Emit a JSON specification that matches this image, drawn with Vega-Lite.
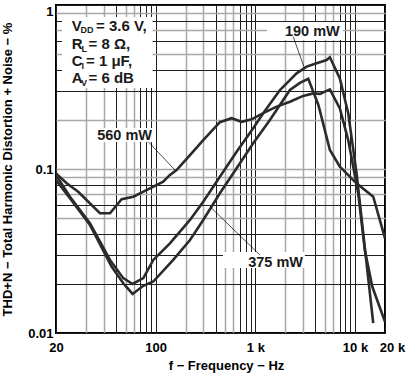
{
  "$schema": "https://vega.github.io/schema/vega-lite/v6.json",
  "autosize": {"type": "none"},
  "width": 329,
  "height": 328,
  "padding": {"left": 56, "top": 5, "right": 21, "bottom": 42},
  "background": "#ffffff",
  "config": {
    "font": "Liberation Sans",
    "view": {"stroke": "#000000", "strokeWidth": 2},
    "axis": {
      "domain": false,
      "ticks": false,
      "tickSize": 0,
      "labelFont": "Liberation Sans",
      "labelFontSize": 13,
      "labelFontWeight": "bold",
      "labelColor": "#000000",
      "titleFont": "Liberation Sans",
      "titleFontSize": 13,
      "titleFontWeight": "bold",
      "titleColor": "#000000",
      "labelOverlap": false,
      "gridOpacity": 1
    }
  },
  "datasets": {
    "curves": [
      {"series": "190 mW", "f": 10, "thd": 0.092},
      {"series": "190 mW", "f": 13.8, "thd": 0.0678},
      {"series": "190 mW", "f": 21.9, "thd": 0.0467},
      {"series": "190 mW", "f": 34.8, "thd": 0.0279},
      {"series": "190 mW", "f": 47.3, "thd": 0.0216},
      {"series": "190 mW", "f": 58.7, "thd": 0.0199},
      {"series": "190 mW", "f": 75.2, "thd": 0.0216},
      {"series": "190 mW", "f": 94.7, "thd": 0.0279},
      {"series": "190 mW", "f": 139, "thd": 0.0352},
      {"series": "190 mW", "f": 221, "thd": 0.0489},
      {"series": "190 mW", "f": 300, "thd": 0.0632},
      {"series": "190 mW", "f": 441, "thd": 0.0898},
      {"series": "190 mW", "f": 649, "thd": 0.1275},
      {"series": "190 mW", "f": 952, "thd": 0.177},
      {"series": "190 mW", "f": 1200, "thd": 0.219},
      {"series": "190 mW", "f": 1765, "thd": 0.303},
      {"series": "190 mW", "f": 2061, "thd": 0.333},
      {"series": "190 mW", "f": 2594, "thd": 0.383},
      {"series": "190 mW", "f": 3272, "thd": 0.421},
      {"series": "190 mW", "f": 4121, "thd": 0.441},
      {"series": "190 mW", "f": 5190, "thd": 0.462},
      {"series": "190 mW", "f": 5598, "thd": 0.48},
      {"series": "190 mW", "f": 7049, "thd": 0.357},
      {"series": "190 mW", "f": 8550, "thd": 0.219},
      {"series": "190 mW", "f": 10370, "thd": 0.094},
      {"series": "190 mW", "f": 12090, "thd": 0.0405},
      {"series": "190 mW", "f": 15240, "thd": 0.0115},
      {"series": "375 mW", "f": 10, "thd": 0.0857},
      {"series": "375 mW", "f": 13.8, "thd": 0.0663},
      {"series": "375 mW", "f": 21.9, "thd": 0.0456},
      {"series": "375 mW", "f": 36.1, "thd": 0.0254},
      {"series": "375 mW", "f": 47.3, "thd": 0.0201},
      {"series": "375 mW", "f": 58.7, "thd": 0.0173},
      {"series": "375 mW", "f": 75.2, "thd": 0.0194},
      {"series": "375 mW", "f": 94.7, "thd": 0.0206},
      {"series": "375 mW", "f": 150, "thd": 0.0279},
      {"series": "375 mW", "f": 221, "thd": 0.0369},
      {"series": "375 mW", "f": 300, "thd": 0.0489},
      {"series": "375 mW", "f": 441, "thd": 0.0711},
      {"series": "375 mW", "f": 649, "thd": 0.101},
      {"series": "375 mW", "f": 952, "thd": 0.1435},
      {"series": "375 mW", "f": 1400, "thd": 0.199},
      {"series": "375 mW", "f": 2225, "thd": 0.303},
      {"series": "375 mW", "f": 2800, "thd": 0.335},
      {"series": "375 mW", "f": 3398, "thd": 0.355},
      {"series": "375 mW", "f": 4300, "thd": 0.245},
      {"series": "375 mW", "f": 5598, "thd": 0.1305},
      {"series": "375 mW", "f": 7049, "thd": 0.1033},
      {"series": "375 mW", "f": 10370, "thd": 0.0818},
      {"series": "375 mW", "f": 15240, "thd": 0.0678},
      {"series": "375 mW", "f": 20000, "thd": 0.0378},
      {"series": "560 mW", "f": 10, "thd": 0.094},
      {"series": "560 mW", "f": 12.8, "thd": 0.0818},
      {"series": "560 mW", "f": 16.7, "thd": 0.0727},
      {"series": "560 mW", "f": 27.6, "thd": 0.0537},
      {"series": "560 mW", "f": 34.8, "thd": 0.0537},
      {"series": "560 mW", "f": 45.6, "thd": 0.0654},
      {"series": "560 mW", "f": 59.6, "thd": 0.0678},
      {"series": "560 mW", "f": 87.7, "thd": 0.0762},
      {"series": "560 mW", "f": 119, "thd": 0.0837},
      {"series": "560 mW", "f": 139, "thd": 0.092},
      {"series": "560 mW", "f": 162, "thd": 0.0986},
      {"series": "560 mW", "f": 221, "thd": 0.1217},
      {"series": "560 mW", "f": 300, "thd": 0.15},
      {"series": "560 mW", "f": 441, "thd": 0.193},
      {"series": "560 mW", "f": 578, "thd": 0.204},
      {"series": "560 mW", "f": 728, "thd": 0.194},
      {"series": "560 mW", "f": 918, "thd": 0.201},
      {"series": "560 mW", "f": 1200, "thd": 0.219},
      {"series": "560 mW", "f": 1637, "thd": 0.24},
      {"series": "560 mW", "f": 2225, "thd": 0.257},
      {"series": "560 mW", "f": 3020, "thd": 0.279},
      {"series": "560 mW", "f": 3807, "thd": 0.289},
      {"series": "560 mW", "f": 4449, "thd": 0.287},
      {"series": "560 mW", "f": 5598, "thd": 0.306},
      {"series": "560 mW", "f": 7049, "thd": 0.234},
      {"series": "560 mW", "f": 8550, "thd": 0.15},
      {"series": "560 mW", "f": 10770, "thd": 0.0711},
      {"series": "560 mW", "f": 12560, "thd": 0.032},
      {"series": "560 mW", "f": 14900, "thd": 0.0192},
      {"series": "560 mW", "f": 20000, "thd": 0.0117}
    ],
    "boxes": [
      {"f": 11.5, "f2": 93, "thd": 0.845, "thd2": 0.312},
      {"f": 1306, "f2": 7570, "thd": 0.788, "thd2": 0.612},
      {"f": 23.5, "f2": 91.8, "thd": 0.178, "thd2": 0.146},
      {"f": 473, "f2": 3141, "thd": 0.0312, "thd2": 0.0249}
    ],
    "leaders": [
      {"f": 2399, "thd": 0.641, "f2": 3069, "thd2": 0.421},
      {"f": 84.3, "thd": 0.1467, "f2": 156, "thd2": 0.0986},
      {"f": 1112, "thd": 0.0299, "f2": 351, "thd2": 0.0589}
    ],
    "params": [
      {"f": 14.37, "thd": 0.697, "label": "V"},
      {"f": 25.18, "thd": 0.697, "label": "= 3.6 V,"},
      {"f": 14.37, "thd": 0.537, "label": "R"},
      {"f": 21.18, "thd": 0.537, "label": "= 8 Ω,"},
      {"f": 14.37, "thd": 0.423, "label": "C"},
      {"f": 19.99, "thd": 0.423, "label": "= 1 μF,"},
      {"f": 14.37, "thd": 0.333, "label": "A"},
      {"f": 21.18, "thd": 0.333, "label": "= 6 dB"}
    ],
    "subs": [
      {"f": 17.61, "thd": 0.673, "label": "DD"},
      {"f": 18.02, "thd": 0.518, "label": "L"},
      {"f": 18.02, "thd": 0.408, "label": "I"},
      {"f": 17.81, "thd": 0.322, "label": "V"}
    ],
    "labels": [
      {"f": 1982, "thd": 0.647, "label": "190 mW"},
      {"f": 25.9, "thd": 0.15, "label": "560 mW"},
      {"f": 849, "thd": 0.0254, "label": "375 mW"}
    ]
  },
  "encoding": {
    "x": {
      "field": "f",
      "type": "quantitative",
      "scale": {"type": "log", "domain": [10, 20000], "nice": false},
      "axis": {
        "title": "f − Frequency − Hz",
        "values": [10, 20, 30, 40, 50, 60, 70, 80, 90, 100, 200, 300, 400, 500, 600, 700, 800, 900, 1000, 2000, 3000, 4000, 5000, 6000, 7000, 8000, 9000, 10000, 20000],
        "labelExpr": "datum.value == 10 ? '20' : datum.value == 100 ? '100' : datum.value == 1000 ? '1 k' : datum.value == 10000 ? '10 k' : datum.value == 20000 ? '20 k' : ''",
        "labelFlush": false,
        "labelPadding": 8,
        "labelOffset": {"condition": {"test": "datum.value == 20000", "value": 7}, "value": 0},
        "titlePadding": 5,
        "titleX": 170,
        "gridColor": {"condition": {"test": "indexof([20, 30, 50, 60, 200, 300, 500, 600, 2000, 3000, 5000, 6000], datum.value) >= 0", "value": "#a8a8a8"}, "value": "#1e1e1e"},
        "gridWidth": {"condition": {"test": "indexof([20, 30, 50, 60, 200, 300, 500, 600, 2000, 3000, 5000, 6000], datum.value) >= 0", "value": 1.5}, "value": 1}
      }
    },
    "y": {
      "field": "thd",
      "type": "quantitative",
      "scale": {"type": "log", "domain": [0.01, 1], "nice": false},
      "axis": {
        "title": "THD+N − Total Harmonic Distortion + Noise − %",
        "values": [0.01, 0.02, 0.03, 0.04, 0.05, 0.06, 0.07, 0.08, 0.09, 0.1, 0.2, 0.3, 0.4, 0.5, 0.6, 0.7, 0.8, 0.9, 1],
        "labelExpr": "datum.value == 1 ? '1' : datum.value == 0.1 ? '0.1' : datum.value == 0.01 ? '0.01' : ''",
        "labelPadding": 3,
        "labelBaseline": {"condition": {"test": "datum.value == 1", "value": "top"}, "value": "middle"},
        "titlePadding": 13,
        "gridColor": {"condition": {"test": "indexof([0.05, 0.07, 0.09, 0.1, 0.2, 0.5, 0.7, 0.9], datum.value) >= 0", "value": "#a8a8a8"}, "value": "#1e1e1e"},
        "gridWidth": {"condition": {"test": "indexof([0.05, 0.07, 0.09, 0.1, 0.2, 0.5, 0.7, 0.9], datum.value) >= 0", "value": 1.5}, "value": 1}
      }
    }
  },
  "layer": [
    {
      "data": {"name": "boxes"},
      "mark": {"type": "rect", "fill": "#ffffff", "stroke": null},
      "encoding": {"x2": {"field": "f2"}, "y2": {"field": "thd2"}}
    },
    {
      "data": {"name": "curves"},
      "mark": {"type": "line", "color": "#2b2b2b", "strokeWidth": 2.6, "clip": true},
      "encoding": {"detail": {"field": "series", "type": "nominal"}}
    },
    {
      "data": {"name": "leaders"},
      "mark": {"type": "rule", "color": "#000000", "strokeWidth": 0.7},
      "encoding": {"x2": {"field": "f2"}, "y2": {"field": "thd2"}}
    },
    {
      "data": {"name": "params"},
      "mark": {"type": "text", "align": "left", "baseline": "alphabetic", "fontSize": 15, "fontWeight": "bold", "color": "#1a1a1a", "font": "Liberation Sans"},
      "encoding": {"text": {"field": "label"}}
    },
    {
      "data": {"name": "subs"},
      "mark": {"type": "text", "align": "left", "baseline": "alphabetic", "fontSize": 9, "fontWeight": "bold", "color": "#1a1a1a", "font": "Liberation Sans"},
      "encoding": {"text": {"field": "label"}}
    },
    {
      "data": {"name": "labels"},
      "mark": {"type": "text", "align": "left", "baseline": "alphabetic", "fontSize": 14.5, "fontWeight": "bold", "color": "#1a1a1a", "font": "Liberation Sans"},
      "encoding": {"text": {"field": "label"}}
    }
  ]
}
